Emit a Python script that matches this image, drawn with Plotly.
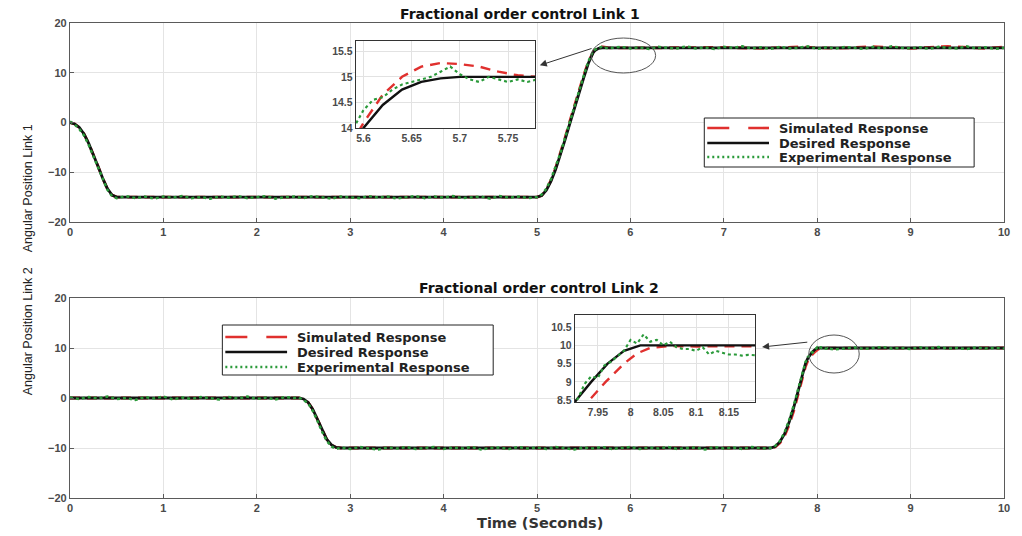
import plotly.graph_objects as go

# ---------------- DATA ----------------
# Link 1 - desired response
des1_t = [0, 0.05, 0.1, 0.15, 0.2, 0.25, 0.3, 0.35, 0.4, 0.45, 0.5,
          5.0, 5.05, 5.1, 5.15, 5.2, 5.25, 5.3, 5.35, 5.4, 5.45, 5.5,
          5.55, 5.575, 5.6, 5.62, 5.64, 5.66, 5.68, 5.7, 10.0]
des1_v = [0, -0.3, -1.0, -2.3, -4.2, -6.4, -8.8, -11.2, -13.3, -14.6, -15.0,
          -15.0, -14.7, -13.6, -11.8, -9.4, -6.6, -3.5, -0.3, 2.9, 5.8, 9.0,
          11.9, 13.1, 14.0, 14.45, 14.75, 14.9, 14.97, 15.0, 15.0]

# Link 1 - simulated response
sim1_t = [0, 0.05, 0.1, 0.15, 0.2, 0.25, 0.3, 0.35, 0.4, 0.45, 0.5,
          5.0, 5.05, 5.1, 5.15, 5.2, 5.25, 5.3, 5.35, 5.4, 5.45, 5.5,
          5.55, 5.575, 5.6, 5.62, 5.64, 5.66, 5.68, 5.7, 5.72, 5.74, 5.76, 5.78,
          6.2, 6.6, 7.0, 7.4, 7.8, 8.2, 8.6, 9.0, 9.4, 9.8, 10.0]
sim1_v = [0, -0.3, -1.0, -2.3, -4.2, -6.4, -8.8, -11.2, -13.3, -14.6, -15.0,
          -15.0, -14.7, -13.5, -11.6, -9.1, -6.2, -3.1, 0.2, 3.4, 6.4, 9.5,
          12.2, 13.3, 14.1, 14.65, 15.0, 15.2, 15.27, 15.25, 15.2, 15.1, 15.03, 15.0,
          15.0, 15.0, 15.1, 14.9, 15.2, 14.9, 15.25, 14.9, 15.3, 14.9, 15.2]

# Link 1 - experimental response
exp1_t = [0, 0.05, 0.1, 0.15, 0.2, 0.25, 0.3, 0.35, 0.4, 0.45, 0.5,
          0.6, 0.7, 0.8, 0.9, 1.0, 1.1, 1.2, 1.3, 1.4, 1.5,
          1.6, 1.7, 1.8, 1.9, 2.0, 2.1, 2.2, 2.3, 2.4, 2.5,
          2.6, 2.7, 2.8, 2.9, 3.0, 3.1, 3.2, 3.3, 3.4, 3.5,
          3.6, 3.7, 3.8, 3.9, 4.0, 4.1, 4.2, 4.3, 4.4, 4.5,
          4.6, 4.7, 4.8, 4.9,
          5.0, 5.05, 5.1, 5.15, 5.2, 5.25, 5.3, 5.35, 5.4, 5.45, 5.5, 5.55, 5.575,
          5.6, 5.61, 5.62, 5.63, 5.64, 5.65, 5.66, 5.67, 5.68, 5.69,
          5.7, 5.71, 5.72, 5.73, 5.74, 5.75, 5.76, 5.77, 5.78,
          5.9, 6.0, 6.1, 6.2, 6.3, 6.4, 6.5, 6.6, 6.7, 6.8,
          6.9, 7.0, 7.1, 7.2, 7.3, 7.4, 7.5, 7.6, 7.7, 7.8,
          7.9, 8.0, 8.1, 8.2, 8.3, 8.4, 8.5, 8.6, 8.7, 8.8,
          8.9, 9.0, 9.1, 9.2, 9.3, 9.4, 9.5, 9.6, 9.7, 9.8,
          9.9, 10.0]
exp1_v = [0.2, -0.4, -1.3, -2.6, -4.5, -6.8, -9.1, -11.5, -13.5, -14.8, -15.2,
          -14.8, -15.2, -14.9, -15.3, -14.9, -15.1, -14.8, -15.2, -15.0, -15.3,
          -14.9, -15.1, -14.8, -15.2, -15.0, -14.8, -15.3, -15.0, -14.9, -15.2,
          -14.8, -15.1, -15.3, -14.9, -15.0, -15.2, -14.8, -15.1, -14.9, -15.3,
          -15.0, -14.8, -15.2, -14.9, -15.1, -14.8, -15.2, -15.0, -14.9, -15.3,
          -14.8, -15.1, -14.9, -15.2,
          -15.0, -14.5, -13.3, -11.4, -9.0, -6.2, -3.1, 0.1, 3.3, 6.4, 9.4, 12.3, 13.5,
          14.35, 14.55, 14.6, 14.75, 14.85, 14.9, 14.95, 15.0, 15.1, 15.2,
          15.05, 14.95, 14.9, 15.0, 14.95, 14.9, 14.95, 14.9, 14.95,
          15.2, 14.9, 15.1, 14.8, 15.2, 15.0, 14.9, 15.3, 14.9, 15.1,
          14.8, 15.2, 15.0, 15.3, 14.9, 15.1, 14.8, 15.2, 14.9, 15.0,
          15.3, 14.8, 15.1, 14.9, 15.2, 15.0, 14.8, 15.2, 14.9, 15.3,
          15.0, 14.9, 15.1, 14.8, 15.2, 15.0, 14.9, 15.3, 14.9, 15.1,
          14.8, 15.0]

# Link 2 - desired response
des2_t = [0, 2.45, 2.5, 2.55, 2.6, 2.65, 2.7, 2.75, 2.8, 2.85, 2.9,
          7.5, 7.55, 7.6, 7.65, 7.7, 7.75, 7.8, 7.85, 7.875, 7.9, 7.917,
          7.94, 7.965, 7.99, 8.015, 8.04, 10.0]
des2_v = [0, 0, -0.2, -0.9, -2.3, -4.3, -6.5, -8.3, -9.4, -9.9, -10.0,
          -10.0, -9.7, -8.8, -7.2, -4.8, -1.8, 1.8, 5.2, 6.9, 7.95, 8.5,
          9.0, 9.5, 9.85, 10.0, 10.0, 10.0]

# Link 2 - simulated response
sim2_t = [0, 2.45, 2.5, 2.55, 2.6, 2.65, 2.7, 2.75, 2.8, 2.85, 2.9,
          7.5, 7.55, 7.6, 7.65, 7.7, 7.75, 7.8, 7.85, 7.875, 7.9, 7.917,
          7.937, 7.962, 7.99, 8.01, 8.03, 8.06, 8.1, 8.19, 10.0]
sim2_v = [0, 0, -0.2, -0.9, -2.3, -4.3, -6.5, -8.3, -9.4, -9.9, -10.0,
          -10.0, -9.8, -9.0, -7.6, -5.4, -2.5, 1.0, 4.6, 6.3, 7.45, 8.0,
          8.5, 9.0, 9.5, 9.78, 9.93, 9.98, 9.97, 9.97, 10.0]

# Link 2 - experimental response
exp2_t = [0, 0.1, 0.2, 0.3, 0.4, 0.5, 0.6, 0.7, 0.8, 0.9,
          1.0, 1.1, 1.2, 1.3, 1.4, 1.5, 1.6, 1.7, 1.8, 1.9,
          2.0, 2.1, 2.2, 2.3, 2.4,
          2.45, 2.5, 2.55, 2.6, 2.65, 2.7, 2.75, 2.8, 2.85,
          2.9, 3.0, 3.1, 3.2, 3.3, 3.4, 3.5, 3.6, 3.7, 3.8,
          3.9, 4.0, 4.1, 4.2, 4.3, 4.4, 4.5, 4.6, 4.7, 4.8,
          4.9, 5.0, 5.1, 5.2, 5.3, 5.4, 5.5, 5.6, 5.7, 5.8,
          5.9, 6.0, 6.1, 6.2, 6.3, 6.4, 6.5, 6.6, 6.7, 6.8,
          6.9, 7.0, 7.1, 7.2, 7.3, 7.4, 7.5,
          7.55, 7.6, 7.65, 7.7, 7.75, 7.8, 7.85, 7.875, 7.9,
          7.92, 7.93, 7.94, 7.95, 7.96, 7.97, 7.98, 7.99, 8.0, 8.01,
          8.02, 8.03, 8.04, 8.05, 8.06, 8.07, 8.08, 8.09, 8.1, 8.11,
          8.12, 8.13, 8.14, 8.15, 8.16, 8.17, 8.18, 8.19,
          8.3, 8.4, 8.5, 8.6, 8.7, 8.8, 8.9, 9.0, 9.1, 9.2,
          9.3, 9.4, 9.5, 9.6, 9.7, 9.8, 9.9, 10.0]
exp2_v = [0.1, -0.2, 0.2, -0.1, 0.3, -0.2, 0.0, -0.4, 0.2, -0.1,
          0.3, -0.3, 0.1, -0.2, 0.2, 0.0, -0.3, 0.2, -0.1, 0.3,
          -0.2, 0.1, -0.3, 0.2, 0.0,
          0.1, -0.4, -1.1, -2.6, -4.6, -6.8, -8.6, -9.7, -10.2,
          -9.9, -10.2, -9.8, -10.1, -10.3, -9.9, -10.1, -9.8, -10.2, -10.0,
          -9.8, -10.2, -9.9, -10.1, -9.8, -10.3, -10.0, -9.9, -10.2, -9.8,
          -10.1, -9.9, -10.2, -9.8, -10.0, -10.3, -9.9, -10.1, -9.8, -10.2,
          -10.0, -9.8, -10.2, -9.9, -10.1, -9.8, -10.2, -10.0, -9.9, -10.3,
          -9.8, -10.1, -9.9, -10.2, -9.8, -10.1, -10.0,
          -9.6, -8.6, -6.9, -4.4, -1.4, 2.2, 5.6, 7.2, 8.2,
          8.55, 8.95, 9.15, 9.1, 9.45, 9.55, 9.7, 9.85, 10.15, 10.05,
          10.3, 10.1, 10.15, 10.0, 10.1, 9.95, 9.9, 9.9, 9.85, 9.95,
          9.75, 9.85, 9.8, 9.75, 9.75, 9.72, 9.74, 9.73,
          9.9, 10.1, 9.8, 10.0, 10.2, 9.9, 10.0, 9.8, 10.1, 9.9,
          10.2, 9.9, 10.0, 9.8, 10.1, 9.9, 10.0, 9.9]

series_names = ["Simulated Response", "Desired Response", "Experimental Response"]
titles = ["Fractional order control Link 1", "Fractional order control Link 2"]
ylabels = ["Angular Position Link 1", "Angular Position Link 2"]
xlabel = "Time (Seconds)"
main_xticks = [0, 1, 2, 3, 4, 5, 6, 7, 8, 9, 10]
main_yticks = [-20, -10, 0, 10, 20]
inset1_xticks = [5.6, 5.65, 5.7, 5.75]
inset1_yticks = [14, 14.5, 15, 15.5]
inset2_xticks = [7.95, 8.0, 8.05, 8.1, 8.15]
inset2_xticklabels = ["7.95", "8", "8.05", "8.1", "8.15"]
inset2_yticks = [8.5, 9, 9.5, 10, 10.5]

# ---------------- STYLE ----------------
RED = "#e0302e"
BLACK = "#111111"
GREEN = "#2a9a3a"
TXT = "DejaVu Sans"
TICKF = dict(family="Liberation Sans", size=11, color="#4a4a4a", weight="bold")

W, H = 1022, 536
ML, MR, MT, MB = 70, 14, 23, 38
PW, PH = W - ML - MR, H - MT - MB


def pxx(px):
    return (px - ML) / PW


def pxy(py):
    return 1 - (py - MT) / PH


LINE_STYLES = [
    dict(color=RED, width=2.8, dash="10px,7px"),
    dict(color=BLACK, width=2.8),
    dict(color=GREEN, width=2.5, dash="dot"),
]

fig = go.Figure()

datasets = [
    (sim1_t, sim1_v, des1_t, des1_v, exp1_t, exp1_v),
    (sim2_t, sim2_v, des2_t, des2_v, exp2_t, exp2_v),
]

for i, (st, sv, dt, dv, et, ev) in enumerate(datasets):
    xa_main = "x" if i == 0 else "x2"
    ya_main = "y" if i == 0 else "y2"
    xa_in = "x3" if i == 0 else "x4"
    ya_in = "y3" if i == 0 else "y4"
    specs = [(st, sv), (dt, dv), (et, ev)]
    for k, (tt, vv) in enumerate(specs):
        fig.add_trace(go.Scatter(x=tt, y=vv, name=series_names[k], mode="lines",
                                 line=LINE_STYLES[k], xaxis=xa_main, yaxis=ya_main,
                                 showlegend=False))
    for k, (tt, vv) in enumerate(specs):
        ln2 = dict(LINE_STYLES[k])
        ln2["width"] = LINE_STYLES[k]["width"] * 0.85
        fig.add_trace(go.Scatter(x=tt, y=vv, name=series_names[k], mode="lines",
                                 line=ln2, xaxis=xa_in, yaxis=ya_in, showlegend=False))

axis_common = dict(showline=True, mirror=True, linecolor="#5a5a5a", linewidth=1.2,
                   ticks="inside", ticklen=4, tickcolor="#5a5a5a",
                   showgrid=True, gridcolor="#e4e4e4", gridwidth=1,
                   zeroline=False, tickfont=TICKF)

inset_common = dict(showline=True, mirror=True, linecolor="#333333", linewidth=1.2,
                    ticks="", showgrid=True, gridcolor="#e2e2e2", gridwidth=1,
                    zeroline=False,
                    tickfont=dict(family="Liberation Sans", size=10.5, color="#4a4a4a",
                                  weight="bold"))

TOP_DOM = [pxy(222), 1.0]
BOT_DOM = [0.0, pxy(298)]

fig.update_layout(
    width=W, height=H, autosize=False,
    margin=dict(l=ML, r=MR, t=MT, b=MB, pad=0),
    paper_bgcolor="white", plot_bgcolor="white",
    showlegend=False,
    xaxis=dict(domain=[0, 1], range=[0, 10], tickvals=main_xticks, anchor="y", **axis_common),
    yaxis=dict(domain=TOP_DOM, range=[-20, 20], tickvals=main_yticks, anchor="x", **axis_common),
    xaxis2=dict(domain=[0, 1], range=[0, 10], tickvals=main_xticks, anchor="y2", **axis_common),
    yaxis2=dict(domain=BOT_DOM, range=[-20, 20], tickvals=main_yticks, anchor="x2", **axis_common),
    xaxis3=dict(domain=[pxx(357), pxx(537)], range=[5.592, 5.778], tickvals=inset1_xticks,
                anchor="y3", **inset_common),
    yaxis3=dict(domain=[pxy(128), pxy(41)], range=[14.0, 15.7], tickvals=inset1_yticks,
                anchor="x3", **inset_common),
    xaxis4=dict(domain=[pxx(577), pxx(758)], range=[7.915, 8.19], tickvals=inset2_xticks,
                ticktext=inset2_xticklabels, anchor="y4", **inset_common),
    yaxis4=dict(domain=[pxy(402), pxy(315)], range=[8.45, 10.83], tickvals=inset2_yticks,
                anchor="x4", **inset_common),
)

TITLE_FONT = dict(family=TXT, size=14, color="#111111", weight="bold")
LEG_FONT = dict(family=TXT, size=13, color="#222222", weight="bold")

annotations = [
    dict(text=titles[0], x=pxx(522), y=pxy(14), xref="paper", yref="paper",
         showarrow=False, yanchor="middle", font=TITLE_FONT),
    dict(text=titles[1], x=pxx(541), y=pxy(288), xref="paper", yref="paper",
         showarrow=False, yanchor="middle", font=TITLE_FONT),
    dict(text=ylabels[0], x=pxx(19), y=pxy(122), xref="paper", yref="paper",
         showarrow=False, textangle=-90,
         font=dict(family="Liberation Sans", size=12.5, color="#222222")),
    dict(text=ylabels[1], x=pxx(19), y=pxy(397), xref="paper", yref="paper",
         showarrow=False, textangle=-90,
         font=dict(family="Liberation Sans", size=12.5, color="#222222")),
    dict(text=xlabel, x=pxx(542), y=pxy(523), xref="paper", yref="paper",
         showarrow=False, yanchor="middle",
         font=dict(family=TXT, size=14.5, color="#333333", weight="bold")),
    # zoom arrows
    dict(x=5.03, y=11.5, ax=5.60, ay=14.97, xref="x", yref="y", axref="x", ayref="y",
         text="", showarrow=True, arrowhead=2, arrowsize=1.4, arrowwidth=1,
         arrowcolor="#333333"),
    dict(x=7.41, y=10.2, ax=7.91, ay=11.2, xref="x2", yref="y2", axref="x2", ayref="y2",
         text="", showarrow=True, arrowhead=2, arrowsize=1.4, arrowwidth=1,
         arrowcolor="#333333"),
]

shapes = [
    dict(type="circle", xref="x", yref="y", x0=5.58, x1=6.27, y0=9.95, y1=16.98,
         line=dict(color="#555555", width=1)),
    dict(type="circle", xref="x2", yref="y2", x0=7.91, x1=8.45, y0=5.0, y1=12.6,
         line=dict(color="#555555", width=1)),
]

# hand-placed legend boxes (one per panel), matching the reference layout
legend_boxes = [
    dict(x0=707, x1=978, y0=118, y1=167, sym0=710, sym1=772, text_x=780, rows=[128, 143, 157]),
    dict(x0=223, x1=495, y0=325, y1=375, sym0=226, sym1=288, text_x=296, rows=[337, 352, 367]),
]
LEG_DASH = ["22px,19px", None, "2px,3px"]
for lb in legend_boxes:
    shapes.append(dict(type="rect", xref="paper", yref="paper",
                       x0=pxx(lb["x0"]), x1=pxx(lb["x1"]), y0=pxy(lb["y1"]), y1=pxy(lb["y0"]),
                       line=dict(color="#222222", width=1), fillcolor="white", layer="above"))
    for k, ry in enumerate(lb["rows"]):
        ln = dict(color=LINE_STYLES[k]["color"], width=2.6)
        if LEG_DASH[k]:
            ln["dash"] = LEG_DASH[k]
        shapes.append(dict(type="line", xref="paper", yref="paper",
                           x0=pxx(lb["sym0"]), x1=pxx(lb["sym1"]), y0=pxy(ry), y1=pxy(ry),
                           line=ln, layer="above"))
        annotations.append(dict(text=series_names[k], x=pxx(lb["text_x"]), y=pxy(ry),
                                xref="paper", yref="paper", xanchor="left", yanchor="middle",
                                showarrow=False, font=LEG_FONT))

fig.update_layout(annotations=annotations, shapes=shapes)

fig.write_html("out.html", config={"displayModeBar": False},
               post_script="document.body.style.margin='0px';")
